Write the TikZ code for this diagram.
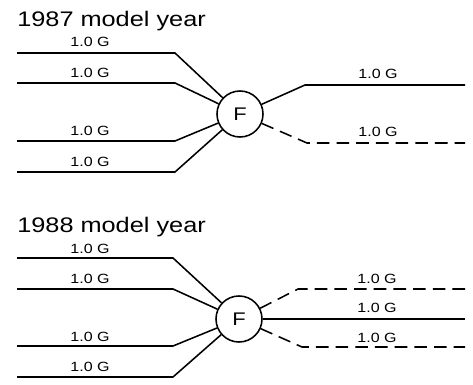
\documentclass[tikz,border=0pt]{standalone}
\usepackage{fontspec}
\setmainfont{Liberation Sans}[FakeStretch=1.2]

\begin{document}
\begin{tikzpicture}[x=0.025cm, y=-0.025cm,
        wire/.style={line width=1.1pt},
        dashwire/.style={line width=1.1pt, dash pattern=on 9pt off 5pt},
        gval/.style={font=\fontsize{9.5}{10}\selectfont, inner sep=0pt},
        yeartitle/.style={font=\fontsize{15}{17}\selectfont, anchor=base west, inner sep=0pt},
        fnode/.style={circle, draw, line width=1.1pt, minimum size=1.15cm, inner sep=0pt, font=\fontsize{13}{15}\selectfont}
    ]
    \useasboundingbox (0,0) rectangle (473,385);

    % 1987 model year
    \node[yeartitle] (t1) at (17,27) {1987 model year};
    \node[fnode] (f1) at (240,114) {F};
    \coordinate (a1) at (17,53);  \coordinate (k1) at (175,53);
    \coordinate (a2) at (17,83);  \coordinate (k2) at (175,83);
    \coordinate (a3) at (17,141); \coordinate (k3) at (175,141);
    \coordinate (a4) at (17,172); \coordinate (k4) at (175,172);
    \coordinate (k5) at (305,85);  \coordinate (b5) at (465,85);
    \coordinate (k6) at (307,143); \coordinate (b6) at (465,143);

    \draw[wire] (a1) -- (k1) -- (f1);
    \draw[wire] (a2) -- (k2) -- (f1);
    \draw[wire] (a3) -- (k3) -- (f1);
    \draw[wire] (a4) -- (k4) -- (f1);
    \draw[wire] (f1) -- (k5) -- (b5);
    \draw[dashwire] (f1) -- (k6) -- (b6);

    \node[gval] (g1) at (90,42) {1.0 G};
    \node[gval] (g2) at (90,73) {1.0 G};
    \node[gval] (g3) at (90,131) {1.0 G};
    \node[gval] (g4) at (90,162) {1.0 G};
    \node[gval] (g5) at (378,74) {1.0 G};
    \node[gval] (g6) at (378,132) {1.0 G};

    % 1988 model year
    \node[yeartitle] (t2) at (17,233) {1988 model year};
    \node[fnode] (f2) at (239,319) {F};
    \coordinate (c1) at (17,258); \coordinate (m1) at (173,258);
    \coordinate (c2) at (17,289); \coordinate (m2) at (173,289);
    \coordinate (c3) at (17,346); \coordinate (m3) at (173,346);
    \coordinate (c4) at (17,377); \coordinate (m4) at (173,377);
    \coordinate (m5) at (298,289); \coordinate (d5) at (465,289);
    \coordinate (d6) at (465,319);
    \coordinate (m7) at (302,347); \coordinate (d7) at (465,347);

    \draw[wire] (c1) -- (m1) -- (f2);
    \draw[wire] (c2) -- (m2) -- (f2);
    \draw[wire] (c3) -- (m3) -- (f2);
    \draw[wire] (c4) -- (m4) -- (f2);
    \draw[dashwire] (f2) -- (m5) -- (d5);
    \draw[wire] (f2) -- (d6);
    \draw[dashwire] (f2) -- (m7) -- (d7);

    \node[gval] (h1) at (90,249) {1.0 G};
    \node[gval] (h2) at (90,279) {1.0 G};
    \node[gval] (h3) at (90,337) {1.0 G};
    \node[gval] (h4) at (90,367) {1.0 G};
    \node[gval] (h5) at (377,279) {1.0 G};
    \node[gval] (h6) at (377,308) {1.0 G};
    \node[gval] (h7) at (377,338) {1.0 G};
\end{tikzpicture}
\end{document}
